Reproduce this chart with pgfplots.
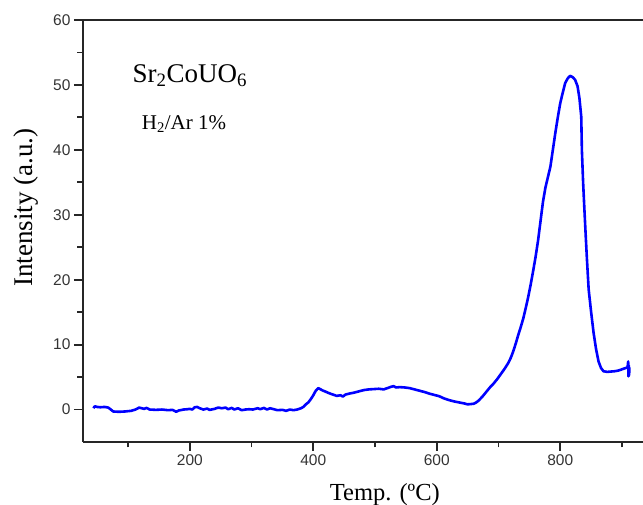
\documentclass[border=0pt]{standalone}
\usepackage{fontspec}
\setmainfont{Liberation Serif}
\setsansfont{Liberation Sans}
\usepackage{pgfplots}
\pgfplotsset{compat=1.18}
\definecolor{curveblue}{RGB}{0,0,255}
\newcommand\ticksf{\fontsize{15.5}{18}\selectfont\sffamily}
\begin{document}
\begin{tikzpicture}
\begin{axis}[
  at={(0,0)}, anchor=south west,
  scale only axis, width=560pt, height=422pt,
  xmin=27, xmax=934, ymin=-5, ymax=60,
  axis x line=box, axis y line=left,
  axis line style={-, line width=2pt, black!85},
  xtick pos=bottom, ytick pos=left, tick align=outside,
  xtick={200,400,600,800}, minor xtick={100,300,500,700,900},
  ytick={0,10,20,30,40,50,60}, minor ytick={5,15,25,35,45,55},
  major tick length=9pt, minor tick length=5.5pt,
  every tick/.style={line width=1.8pt, black!85},
  /pgf/number format/assume math mode=true,
  ticklabel style={font=\ticksf, black!80},
  xlabel={Temp. (ºC)}, ylabel={Intensity (a.u.)},
  xlabel style={font=\fontsize{24.5}{28}\selectfont, at={(axis description cs:0.539,-0.139)}, anchor=base},
  ylabel style={font=\fontsize{27}{30}\selectfont, at={(axis description cs:-0.091,0.555)}, anchor=base, rotate=0},
  clip=false,
]
\addplot[curveblue, line width=2.6pt, line join=round] coordinates {
(44,0.2) (46,0.5) (50,0.4) (55,0.35) (62,0.4) (68,0.3) (72,0.0) (76,-0.3) (85,-0.35) (95,-0.3)
(105,-0.2) (112,0.0) (118,0.3) (122,0.2) (126,0.1) (130,0.25) (135,0.0) (145,-0.05) (155,0.0) (165,-0.1)
(172,-0.05) (178,-0.35) (182,-0.15) (190,0.0) (196,0.05) (200,0.1) (204,0.0) (208,0.35) (212,0.4) (216,0.2)
(222,0.0) (228,0.15) (232,-0.05) (240,0.1) (246,0.3) (252,0.2) (258,0.3) (262,0.05) (268,0.25) (272,0.0)
(278,0.2) (284,-0.1) (290,0.0) (296,0.05) (302,0.0) (310,0.2) (314,0.05) (320,0.25) (325,0.0) (330,0.2)
(336,0.05) (342,-0.1) (350,-0.05) (356,-0.2) (362,0.0) (368,-0.1) (374,0.0) (380,0.2) (384,0.4) (388,0.8)
(392,1.1) (396,1.6) (400,2.2) (404,2.9) (408,3.3) (412,3.1) (416,2.9) (420,2.75) (426,2.5) (432,2.3)
(438,2.1) (444,2.2) (448,2.0) (452,2.3) (458,2.45) (466,2.6) (474,2.8) (482,3.0) (490,3.1) (498,3.15)
(506,3.2) (514,3.1) (520,3.3) (526,3.5) (530,3.6) (534,3.4) (540,3.45) (548,3.4) (556,3.3) (564,3.1)
(572,2.9) (580,2.7) (588,2.45) (596,2.25) (604,2.05) (612,1.7) (620,1.45) (628,1.25) (636,1.1) (644,0.95)
(650,0.8) (656,0.85) (660,0.9) (664,1.1) (668,1.4) (674,2.0) (680,2.7) (686,3.4) (692,4.0) (698,4.7)
(704,5.5) (710,6.3) (716,7.2) (720,8.0) (724,9.0) (728,10.2) (732,11.5) (736,12.7) (740,14.0) (744,15.6)
(748,17.3) (752,19.2) (756,21.3) (760,23.5) (764,26.0) (768,29.0) (772,32.0) (776,34.2) (780,35.8) (784,37.4)
(788,40.0) (792,42.6) (796,45.0) (800,47.2) (804,48.8) (808,50.3) (812,51.0) (816,51.4) (820,51.2) (824,50.8)
(828,49.8) (831,48.0) (834,45.1) (835,40.0) (837,35.0) (839,31.0) (841,27.2) (843,23.5) (846,18.5) (850,15.0)
(854,11.8) (858,9.3) (862,7.4) (866,6.4) (870,5.9) (876,5.8) (882,5.85) (888,5.9) (894,6.0) (900,6.2)
(906,6.4) (909,6.5) (910,7.4) (910.5,5.1) (911,6.8) (911.5,5.3) (912,6.5)
};
\node[anchor=base west, inner sep=0pt, font=\fontsize{27}{30}\selectfont] at (axis cs:107,50.3) {Sr\textsubscript{2}CoUO\textsubscript{6}};
\node[anchor=base west, inner sep=0pt, font=\fontsize{21}{24}\selectfont] at (axis cs:122,43.1) {H\textsubscript{2}/Ar 1\%};
\end{axis}
\pgfresetboundingbox
\path (-83pt,-63pt) rectangle (560pt,442pt);
\end{tikzpicture}
\end{document}
